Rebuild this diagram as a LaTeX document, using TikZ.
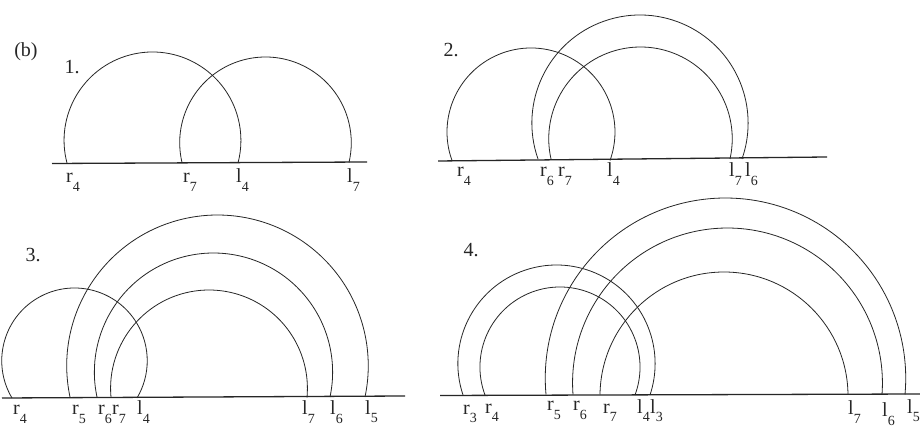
\documentclass[tikz,border=0pt]{standalone}
\usepackage{fontspec}
\setmainfont{Liberation Serif}
\newcommand\lab[2]{#1\raisebox{-9pt}{\fontsize{14}{14}\selectfont #2}}
\newcommand\drawarc[5]{% name, xL, xR, base (px, y down), top (px, y down)
  \pgfmathsetmacro\darcA{(#3-#2)/2}%
  \pgfmathsetmacro\darcH{#4-#5}%
  \pgfmathsetmacro\darcR{\darcA*(\darcA/(2*\darcH))+\darcH/2}%
  \pgfmathsetmacro\darcP{asin((\darcH-\darcR)/\darcR)}%
  \pgfmathsetmacro\darcY{428-#4}%
  \coordinate (#1) at (#2,\darcY);
  \draw[arcline] (#1) arc[start angle=180+\darcP, end angle=-\darcP, radius=\darcR];
}
\begin{document}
\begin{tikzpicture}[x=1pt,y=1pt,
  arcline/.style={draw=black!85, line width=0.8pt},
  baseline/.style={draw=black!85, line width=1.3pt},
  lbl/.style={anchor=base west, inner sep=0pt, font=\fontsize{20}{24}\selectfont, text=black!85},
  num/.style={anchor=base, inner sep=0pt, font=\fontsize{20}{24}\selectfont, text=black!85}]
\useasboundingbox (0,0) rectangle (920,428);
\fill[white] (0,0) rectangle (920,428);

% ---------- panel 1 ----------
\node[num] (tb) at (26,371) {(b)};
\node[num] (n1) at (72,354) {1.};
\coordinate (b1s) at (52,264.5);
\coordinate (b1e) at (367,266);
\draw[baseline] (b1s) -- (b1e);
\drawarc{p1a}{67}{238}{163}{52}
\drawarc{p1b}{182}{349}{162.5}{57}
\node[lbl] (l1r4) at (66,245) {\lab{r}{4}};
\node[lbl] (l1r7) at (183,245) {\lab{r}{7}};
\node[lbl] (l1l4) at (236,245) {\lab{l}{4}};
\node[lbl] (l1l7) at (347,245) {\lab{l}{7}};

% ---------- panel 2 ----------
\node[num] (n2) at (451,371) {2.};
\coordinate (b2s) at (438,267);
\coordinate (b2e) at (827,271);
\draw[baseline] (b2s) -- (b2e);
\drawarc{p2a}{452}{610}{160.5}{48}
\drawarc{p2b}{538}{742}{159}{15}
\drawarc{p2c}{551}{730}{159}{47}
\node[lbl] (l2r4) at (457,251) {\lab{r}{4}};
\node[lbl] (l2r6) at (540,251) {\lab{r}{6}};
\node[lbl] (l2r7) at (558,251) {\lab{r}{7}};
\node[lbl] (l2l4) at (607,251) {\lab{l}{4}};
\node[lbl] (l2l7) at (729,251) {\lab{l}{7}};
\node[lbl] (l2l6) at (745,251) {\lab{l}{6}};

% ---------- panel 3 ----------
\node[num] (n3) at (33,166) {3.};
\coordinate (b3s) at (2,30);
\coordinate (b3e) at (405,32);
\draw[baseline] (b3s) -- (b3e);
\drawarc{p3a}{12}{137}{398}{288}
\drawarc{p3b}{70}{365}{397}{215}
\drawarc{p3c}{97}{330}{397}{253}
\drawarc{p3d}{111}{307}{397.5}{290}
\node[lbl] (l3r4) at (13,13) {\lab{r}{4}};
\node[lbl] (l3r5) at (72,13) {\lab{r}{5}};
\node[lbl] (l3r6) at (98,13) {\lab{r}{6}};
\node[lbl] (l3r7) at (112,13) {\lab{r}{7}};
\node[lbl] (l3l4) at (137,13) {\lab{l}{4}};
\node[lbl] (l3l7) at (302,13) {\lab{l}{7}};
\node[lbl] (l3l6) at (330,13) {\lab{l}{6}};
\node[lbl] (l3l5) at (365,14) {\lab{l}{5}};

% ---------- panel 4 ----------
\node[num] (n4) at (471,171) {4.};
\coordinate (b4s) at (440,32.5);
\coordinate (b4e) at (920,34);
\draw[baseline] (b4s) -- (b4e);
\drawarc{p4a}{463}{650}{395}{265}
\drawarc{p4b}{485}{635}{395}{287}
\drawarc{p4c}{546}{905}{394.5}{198}
\drawarc{p4d}{573}{882}{394.5}{228}
\drawarc{p4e}{600}{848}{394.5}{272}
\node[lbl] (l4r3) at (463,14) {\lab{r}{3}};
\node[lbl] (l4r4) at (485,15) {\lab{r}{4}};
\node[lbl] (l4r5) at (547,17) {\lab{r}{5}};
\node[lbl] (l4r6) at (573,17) {\lab{r}{6}};
\node[lbl] (l4r7) at (603,15) {\lab{r}{7}};
\node[lbl] (l4l4) at (637,15) {\lab{l}{4}};
\node[lbl] (l4l3) at (650,15) {\lab{l}{3}};
\node[lbl] (l4l7) at (848,13) {\lab{l}{7}};
\node[lbl] (l4l6) at (882,12) {\lab{l}{6}};
\node[lbl] (l4l5) at (907,15) {\lab{l}{5}};
\end{tikzpicture}
\end{document}
